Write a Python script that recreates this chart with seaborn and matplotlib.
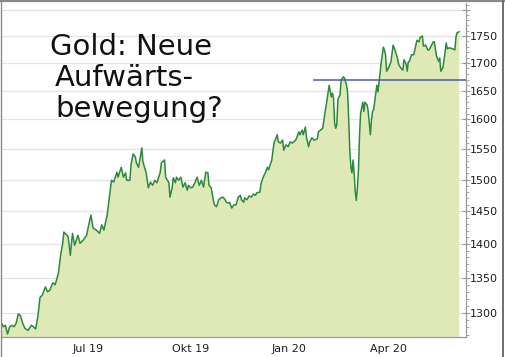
import matplotlib
matplotlib.use("Agg")
import matplotlib.pyplot as plt
import matplotlib.dates as mdates
from matplotlib.lines import Line2D
from matplotlib.ticker import FixedLocator, FixedFormatter, NullFormatter
import pandas as pd
import seaborn as sns

# ---------------- data ----------------
dates = [
    "2019-04-27", "2019-04-28", "2019-04-30", "2019-05-02", "2019-05-04", "2019-05-06", "2019-05-08",
    "2019-05-10", "2019-05-12", "2019-05-14", "2019-05-16", "2019-05-18", "2019-05-21", "2019-05-24",
    "2019-05-26", "2019-05-28", "2019-05-30", "2019-06-01", "2019-06-03", "2019-06-06", "2019-06-08",
    "2019-06-10", "2019-06-12", "2019-06-13", "2019-06-15", "2019-06-18", "2019-06-20", "2019-06-22",
    "2019-06-23", "2019-06-26", "2019-06-27", "2019-06-29", "2019-07-01", "2019-07-03", "2019-07-06",
    "2019-07-08", "2019-07-11", "2019-07-14", "2019-07-16", "2019-07-18", "2019-07-20", "2019-07-23",
    "2019-07-26", "2019-07-28", "2019-07-30", "2019-08-02", "2019-08-04", "2019-08-06", "2019-08-08",
    "2019-08-11", "2019-08-12", "2019-08-15", "2019-08-17", "2019-08-19", "2019-08-20", "2019-08-23",
    "2019-08-24", "2019-08-26", "2019-08-28", "2019-08-29", "2019-08-31", "2019-09-03", "2019-09-04",
    "2019-09-07", "2019-09-09", "2019-09-11", "2019-09-13", "2019-09-15", "2019-09-17", "2019-09-20",
    "2019-09-21", "2019-09-24", "2019-09-25", "2019-09-28", "2019-09-29", "2019-10-01", "2019-10-02",
    "2019-10-04", "2019-10-05", "2019-10-07", "2019-10-09", "2019-10-11", "2019-10-13", "2019-10-15",
    "2019-10-16", "2019-10-18", "2019-10-20", "2019-10-22", "2019-10-24", "2019-10-26", "2019-10-28",
    "2019-10-30", "2019-11-01", "2019-11-03", "2019-11-04", "2019-11-06", "2019-11-08", "2019-11-09",
    "2019-11-11", "2019-11-13", "2019-11-15", "2019-11-17", "2019-11-19", "2019-11-20", "2019-11-22",
    "2019-11-23", "2019-11-25", "2019-11-27", "2019-11-29", "2019-12-01", "2019-12-03", "2019-12-04",
    "2019-12-06", "2019-12-07", "2019-12-09", "2019-12-11", "2019-12-13", "2019-12-15", "2019-12-17",
    "2019-12-18", "2019-12-21", "2019-12-22", "2019-12-24", "2019-12-26", "2019-12-28", "2019-12-29",
    "2020-01-01", "2020-01-03", "2020-01-06", "2020-01-07", "2020-01-09", "2020-01-11", "2020-01-12",
    "2020-01-14", "2020-01-16", "2020-01-18", "2020-01-20", "2020-01-23", "2020-01-24", "2020-01-26",
    "2020-01-27", "2020-01-29", "2020-01-30", "2020-02-01", "2020-02-02", "2020-02-04", "2020-02-05",
    "2020-02-07", "2020-02-09", "2020-02-12", "2020-02-13", "2020-02-15", "2020-02-17", "2020-02-19",
    "2020-02-21", "2020-02-22", "2020-02-23", "2020-02-24", "2020-02-25", "2020-02-26", "2020-02-27",
    "2020-02-28", "2020-02-29", "2020-03-01", "2020-03-02", "2020-03-03", "2020-03-04", "2020-03-05",
    "2020-03-07", "2020-03-08", "2020-03-10", "2020-03-11", "2020-03-12", "2020-03-13", "2020-03-14",
    "2020-03-15", "2020-03-16", "2020-03-17", "2020-03-18", "2020-03-19", "2020-03-20", "2020-03-21",
    "2020-03-22", "2020-03-23", "2020-03-25", "2020-03-26", "2020-03-27", "2020-03-29", "2020-03-30",
    "2020-04-01", "2020-04-02", "2020-04-03", "2020-04-04", "2020-04-06", "2020-04-07", "2020-04-08",
    "2020-04-09", "2020-04-10", "2020-04-11", "2020-04-13", "2020-04-14", "2020-04-15", "2020-04-16",
    "2020-04-18", "2020-04-20", "2020-04-22", "2020-04-24", "2020-04-26", "2020-04-27", "2020-04-29",
    "2020-05-01", "2020-05-02", "2020-05-04", "2020-05-05", "2020-05-06", "2020-05-07", "2020-05-09",
    "2020-05-11", "2020-05-14", "2020-05-16", "2020-05-17", "2020-05-19", "2020-05-20", "2020-05-22",
    "2020-05-24", "2020-05-25", "2020-05-27", "2020-05-29", "2020-05-30", "2020-06-01", "2020-06-03",
    "2020-06-04", "2020-06-05", "2020-06-07", "2020-06-08", "2020-06-10", "2020-06-11", "2020-06-13",
    "2020-06-16", "2020-06-18", "2020-06-19", "2020-06-20", "2020-06-22",
]

gold_price = [
    1285, 1281, 1283, 1271, 1281, 1283, 1281,
    1286, 1299, 1296, 1286, 1279, 1276, 1283,
    1281, 1278, 1295, 1322, 1325, 1337, 1330,
    1332, 1340, 1343, 1340, 1357, 1383, 1401,
    1418, 1413, 1411, 1383, 1416, 1398, 1413,
    1401, 1406, 1413, 1429, 1444, 1424, 1421,
    1416, 1429, 1421, 1444, 1471, 1499, 1496,
    1512, 1504, 1520, 1504, 1511, 1499, 1499,
    1524, 1542, 1537, 1527, 1520, 1552, 1529,
    1511, 1487, 1496, 1491, 1499, 1495, 1512,
    1527, 1532, 1504, 1495, 1472, 1487, 1503,
    1495, 1504, 1499, 1504, 1488, 1495, 1483,
    1491, 1487, 1488, 1495, 1504, 1491, 1499,
    1488, 1512, 1511, 1491, 1487, 1468, 1460,
    1457, 1468, 1471, 1472, 1468, 1464, 1463,
    1464, 1455, 1460, 1460, 1472, 1475, 1468,
    1464, 1471, 1468, 1474, 1472, 1477, 1475,
    1479, 1480, 1493, 1504, 1511, 1520, 1516,
    1532, 1560, 1574, 1562, 1560, 1565, 1548,
    1557, 1554, 1562, 1560, 1565, 1569, 1579,
    1574, 1582, 1574, 1587, 1570, 1554, 1562,
    1569, 1565, 1567, 1579, 1582, 1585, 1611,
    1634, 1648, 1660, 1648, 1639, 1646, 1637,
    1594, 1585, 1591, 1634, 1639, 1643, 1669,
    1675, 1673, 1660, 1646, 1599, 1548, 1520,
    1511, 1532, 1511, 1481, 1467, 1486, 1516,
    1574, 1611, 1630, 1614, 1630, 1625, 1614,
    1574, 1599, 1614, 1617, 1646, 1660, 1648,
    1666, 1683, 1701, 1729, 1724, 1715, 1685,
    1692, 1702, 1733, 1722, 1709, 1698, 1691,
    1687, 1706, 1698, 1685, 1702, 1703, 1715,
    1715, 1742, 1739, 1748, 1750, 1731, 1733,
    1724, 1724, 1731, 1739, 1739, 1713, 1703,
    1709, 1685, 1692, 1706, 1737, 1726, 1728,
    1726, 1724, 1748, 1756, 1758,
]

resistance_level = 1670
resistance_start = "2020-02-08"

x_tick_dates = ["2019-07-01", "2019-10-01", "2020-01-01", "2020-04-01"]
x_tick_labels = ["Jul 19", "Okt 19", "Jan 20", "Apr 20"]
y_ticks = [1300, 1350, 1400, 1450, 1500, 1550, 1600, 1650, 1700, 1750, 1800]
y_tick_labels = ["1300", "1350", "1400", "1450", "1500", "1550", "1600", "1650", "1700", "1750", ""]

title_lines = ["Gold: Neue", "Aufwärts-", "bewegung?"]

# ---------------- styling ----------------
FILL = "#dfe9b7"
LINE = "#2b8a3e"
BLUE = "#4c5aa8"
GRID = "#e4e4e4"
AXIS = "#9a9a9a"
FRAME = "#8a8a8a"

sns.set_theme(style="white")
plt.rcParams["font.family"] = ["DejaVu Sans"]

W, H = 506, 357
fig = plt.figure(figsize=(W / 100, H / 100), dpi=100)
fig.patch.set_facecolor("white")
ax = fig.add_axes([1 / W, 20 / H, 464.7 / W, 334 / H])
ax.set_facecolor("white")

df = pd.DataFrame({"date": pd.to_datetime(dates), "price": gold_price})

ax.set_yscale("log")
ax.fill_between(df["date"], df["price"], 1000, color=FILL, lw=0, zorder=1)
sns.lineplot(data=df, x="date", y="price", ax=ax, color=LINE, lw=1.1, zorder=3)

x_left = pd.Timestamp("2019-04-26")
x_right = pd.Timestamp("2020-06-28")
ax.plot([pd.Timestamp(resistance_start), x_right], [resistance_level, resistance_level],
        color=BLUE, lw=1.1, zorder=4, solid_capstyle="butt")

ax.set_xlim(x_left, x_right)
ax.set_ylim(1267, 1813)

ax.set_xlabel("")
ax.set_ylabel("")

# y axis on the right
ax.yaxis.tick_right()
ax.yaxis.set_major_locator(FixedLocator(y_ticks))
ax.yaxis.set_major_formatter(FixedFormatter(y_tick_labels))
ax.yaxis.set_minor_locator(FixedLocator(list(range(1270, 1811, 10))))
ax.yaxis.set_minor_formatter(NullFormatter())
ax.tick_params(axis="y", which="major", direction="inout", length=6, width=0.8,
               color=AXIS, labelcolor="#1e1e1e", labelsize=8, pad=0)
ax.tick_params(axis="y", which="minor", direction="out", length=2, width=0.6, color=AXIS)

# x axis
ax.xaxis.set_major_locator(FixedLocator(mdates.date2num(pd.to_datetime(x_tick_dates))))
ax.xaxis.set_major_formatter(FixedFormatter(x_tick_labels))
ax.xaxis.set_minor_locator(FixedLocator([]))
ax.tick_params(axis="x", which="major", direction="out", length=3, width=0.8,
               color=AXIS, labelcolor="#1e1e1e", labelsize=8, pad=2)
for lbl in ax.get_xticklabels():
    lbl.set_horizontalalignment("left")

ax.grid(axis="y", which="major", color=GRID, lw=0.9)
ax.grid(axis="x", visible=False)
ax.set_axisbelow(True)

for side in ["left", "top"]:
    ax.spines[side].set_visible(False)
for side in ["right", "bottom"]:
    ax.spines[side].set_visible(True)
    ax.spines[side].set_color(AXIS)
    ax.spines[side].set_linewidth(0.9)

# outer frame (top, left, right)
fig.add_artist(Line2D([0, 1], [1 - 1.2 / H, 1 - 1.2 / H], transform=fig.transFigure, color=FRAME, lw=1.6))
fig.add_artist(Line2D([0.6 / W, 0.6 / W], [0, 1], transform=fig.transFigure, color=FRAME, lw=1.0))
fig.add_artist(Line2D([503.5 / W, 503.5 / W], [0, 1], transform=fig.transFigure, color="#6f6f6f", lw=1.4))

# handwritten-style title
for (txt, x0, base) in zip(title_lines, [50, 55, 55], [55, 86, 117]):
    fig.text(x0 / W, 1 - base / H, txt, fontsize=21, color="#111111",
             ha="left", va="baseline", family=["DejaVu Sans"], zorder=10)

fig.savefig("out.png", dpi=100)
